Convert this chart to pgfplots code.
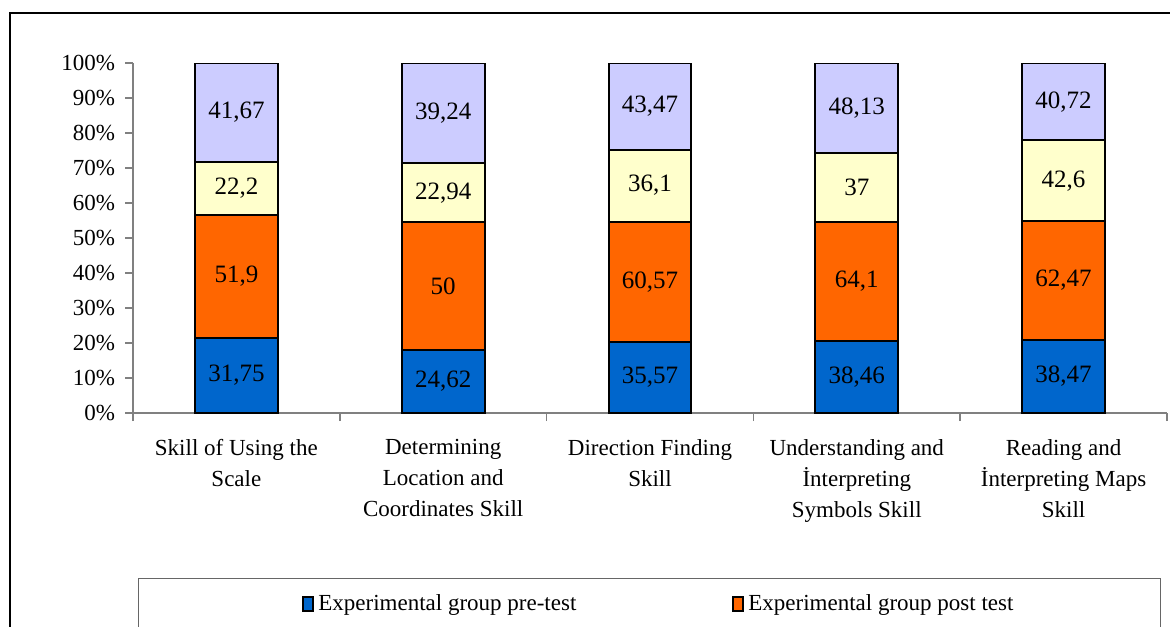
\documentclass[border=0pt]{standalone}
\usepackage{fontspec}
\setmainfont{Liberation Serif}
\usepackage{pgfplots}
\usepackage{pgfplotstable}
\pgfplotsset{compat=1.18}
\definecolor{cpre}{HTML}{0066CC}
\definecolor{cpost}{HTML}{FF6600}
\definecolor{ccpre}{HTML}{FFFFCC}
\definecolor{ccpost}{HTML}{CCCCFF}
\pgfplotstableread{
x pre post cpre cpost
0 31.75 51.9 22.2 41.67
1 24.62 50 22.94 39.24
2 35.57 60.57 36.1 43.47
3 38.46 64.1 37 48.13
4 38.47 62.47 42.6 40.72
}\data
\pgfplotstablecreatecol[create col/expr={\thisrow{pre}+\thisrow{post}+\thisrow{cpre}+\thisrow{cpost}}]{total}{\data}
\begin{document}
\begin{tikzpicture}
\fontsize{11.5}{15.5}\selectfont
\draw[line width=1.3pt] (5pt,-330pt) -- (5pt,-6.5pt) -- (600pt,-6.5pt);
\draw[black!60, line width=0.5pt] (69pt,-340pt) -- (69pt,-289pt) -- (580pt,-289pt) -- (580pt,-340pt);
\begin{axis}[
  at={(66.5pt,-206.5pt)}, anchor=south west,
  scale only axis, width=517pt, height=175pt,
  xmin=-0.5, xmax=4.5, ymin=0, ymax=100,
  ybar stacked, bar width=0.4,
  axis x line*=bottom, axis y line*=left,
  axis line style={black!50, line width=0.75pt},
  tick style={black!50, line width=0.75pt},
  tick align=outside,
  major tick length=4pt, minor tick length=4pt,
  ytick={0,10,...,100},
  yticklabel={\pgfmathprintnumber{\tick}\%},
  yticklabel style={font=\fontsize{11.5}{14}\selectfont, xshift=-1pt},
  xtick={0,...,4},
  xticklabels={{Skill of Using the\\Scale},{Determining\\Location and\\Coordinates Skill},{Direction Finding\\Skill},{Understanding and\\İnterpreting\\Symbols Skill},{Reading and\\İnterpreting Maps\\Skill}},
  xticklabel style={align=center, font=\fontsize{11.5}{15.5}\selectfont, yshift=-5pt},
  major x tick style={draw=none},
  minor xtick={-0.5,0.5,...,4.5},
  /pgf/number format/.cd, use comma, 1000 sep={}, assume math mode=true, /pgfplots/.cd,
  point meta=explicit,
  nodes near coords,
  every node near coord/.append style={font=\fontsize{12.5}{14}\selectfont, text=black, anchor=center},
  legend columns=2,
  legend cell align=left,
  legend image code/.code={\draw[#1, draw=black, line width=1pt] (0pt,-3.5pt) rectangle (5pt,3.5pt);},
  legend style={draw=none, fill=none, at={(0.1576,-0.495)}, anchor=north west, font=\fontsize{11.5}{14}\selectfont, /tikz/every even column/.append style={column sep=76pt}},
]
\addplot[fill=cpre, draw=black, line width=1pt] table[x=x, y expr=\thisrow{pre}/\thisrow{total}*100, meta=pre]{\data};
\addlegendentry{Experimental group pre-test}
\addplot[fill=cpost, draw=black, line width=1pt] table[x=x, y expr=\thisrow{post}/\thisrow{total}*100, meta=post]{\data};
\addlegendentry{Experimental group post test}
\addplot[fill=ccpre, draw=black, line width=1pt] table[x=x, y expr=\thisrow{cpre}/\thisrow{total}*100, meta=cpre]{\data};
\addplot[fill=ccpost, draw=black, line width=1pt] table[x=x, y expr=\thisrow{cpost}/\thisrow{total}*100, meta=cpost]{\data};
\end{axis}
\pgfresetboundingbox
\path[use as bounding box] (0pt,0pt) rectangle (585pt,-313pt);
\end{tikzpicture}
\end{document}
